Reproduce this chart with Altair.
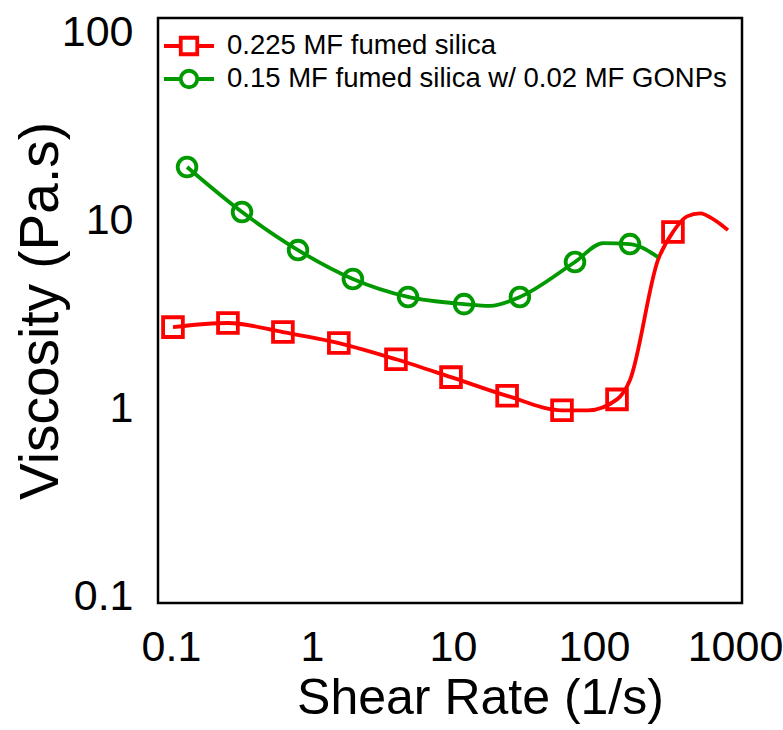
import altair as alt
import pandas as pd

series_names = ["0.225 MF fumed silica", "0.15 MF fumed silica w/ 0.02 MF GONPs"]
series_colors = ["#FF0000", "#009900"]

# 0.225 MF fumed silica (line points; marker flag = 1 where a square is drawn)
red_rate = [0.1033, 0.2535, 0.622, 1.55, 3.94, 9.68, 24.2, 59.3, 90.6, 145.6, 180, 284, 363, 457, 565, 722, 891]
red_visc = [2.71, 2.85, 2.55, 2.23, 1.83, 1.47, 1.17, 0.98, 0.98, 1.12, 1.42, 6.15, 8.67, 10.5, 10.9, 10.0, 8.87]
red_marker = [1, 1, 1, 1, 1, 1, 1, 1, 0, 1, 0, 0, 1, 0, 0, 0, 0]

# 0.15 MF fumed silica w/ 0.02 MF GONPs
green_rate = [0.130, 0.319, 0.796, 1.95, 4.80, 11.97, 18.3, 29.8, 73.3, 116, 180, 284]
green_visc = [19.2, 11.07, 6.95, 4.88, 3.92, 3.59, 3.51, 3.92, 6.01, 7.57, 7.48, 6.38]
green_marker = [1, 1, 1, 1, 1, 1, 0, 1, 1, 0, 1, 0]

x_ticks = [0.1, 1, 10, 100, 1000]
y_ticks = [0.1, 1, 10, 100]

rows = []
for name, xs, ys, ms in [
    (series_names[0], red_rate, red_visc, red_marker),
    (series_names[1], green_rate, green_visc, green_marker),
]:
    for i, (x, y, m) in enumerate(zip(xs, ys, ms)):
        rows.append({"series": name, "rate": x, "visc": y, "marker": m, "order": i})
df = pd.DataFrame(rows)

FONT = "Liberation Sans, Arial"

xscale = alt.Scale(type="log", domain=[0.0809, 1121], nice=False)
yscale = alt.Scale(type="log", domain=[0.0929, 118.7], nice=False)

x_axis = alt.Axis(
    values=x_ticks, format="~g", ticks=False, domain=False, grid=False,
    labelFont=FONT, labelFontSize=43, labelColor="black", labelPadding=23,
    labelFlush=False, labelOverlap=False, labelBound=False,
    title="Shear Rate (1/s)", titleFont=FONT, titleFontSize=50,
    titleFontWeight="normal", titleColor="black",
    titleX=322, titleY=110, titleBaseline="alphabetic",
)
y_axis = alt.Axis(
    values=y_ticks, format="~g", ticks=False, domain=False, grid=False,
    labelFont=FONT, labelFontSize=43, labelColor="black", labelPadding=25,
    labelFlush=False, labelOverlap=False, labelBound=False,
    title="Viscosity (Pa.s)", titleFont=FONT, titleFontSize=55,
    titleFontWeight="normal", titleColor="black",
    titleX=-101, titleBaseline="alphabetic",
)

color_scale = alt.Scale(domain=series_names, range=series_colors)

base = alt.Chart(df)

lines = base.mark_line(interpolate="monotone", strokeWidth=3.8).encode(
    x=alt.X("rate:Q", scale=xscale, axis=x_axis),
    y=alt.Y("visc:Q", scale=yscale, axis=y_axis),
    color=alt.Color("series:N", scale=color_scale, legend=None),
    order="order:Q",
)

points = base.transform_filter("datum.marker == 1").mark_point(
    filled=False, strokeWidth=3.8, opacity=1
).encode(
    x=alt.X("rate:Q", scale=xscale),
    y=alt.Y("visc:Q", scale=yscale),
    color=alt.Color("series:N", scale=color_scale, legend=None),
    shape=alt.Shape("series:N", scale=alt.Scale(domain=series_names, range=["square", "circle"]), legend=None),
    size=alt.Size("series:N", scale=alt.Scale(domain=series_names, range=[390, 350]), legend=None),
)

# legend glyphs: line through an open marker, in symbol units (1 unit = 15 px at size 900)
sq_path = "M-1.67,0H-0.55M0.55,0H1.67M-0.55,-0.55H0.55V0.55H-0.55Z"
ci_path = "M-1.67,0H-0.55M0.55,0H1.67M-0.55,0A0.55,0.55 0 1,0 0.55,0A0.55,0.55 0 1,0 -0.55,0Z"

legend_cfg = dict(
    title=None, orient="none", legendX=14, legendY=11,
    labelFont=FONT, labelFontSize=27.5, labelColor="black", labelOffset=21,
    labelLimit=0,
    symbolSize=900, symbolStrokeWidth=3.8, symbolOpacity=1,
    rowPadding=0, padding=0,
)

legend_layer = base.transform_filter("datum.marker == 1").mark_point(
    filled=False, strokeWidth=3.8, opacity=0
).encode(
    x=alt.X("rate:Q", scale=xscale),
    y=alt.Y("visc:Q", scale=yscale),
    color=alt.Color("series:N", scale=color_scale, legend=alt.Legend(**legend_cfg)),
    shape=alt.Shape("series:N", scale=alt.Scale(domain=series_names, range=[sq_path, ci_path]),
                    legend=alt.Legend(**legend_cfg)),
)

chart = alt.layer(lines, points, legend_layer).resolve_scale(
    color="independent", shape="independent"
).properties(
    width=584, height=585,
    background="white",
    autosize=alt.AutoSizeParams(type="none"),
    padding={"left": 158, "top": 18, "right": 41, "bottom": 127},
).configure_view(
    stroke="black", strokeWidth=2.5
)

chart.save("out.html", embed_options={"renderer": "svg", "actions": False})
